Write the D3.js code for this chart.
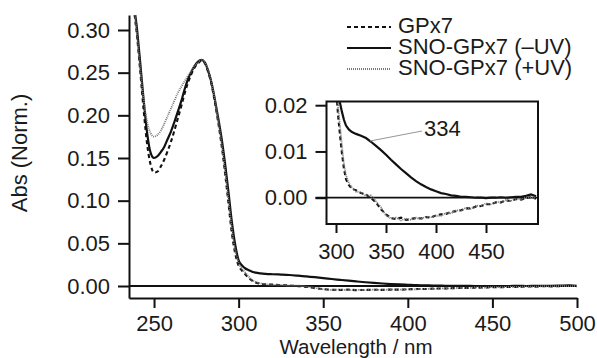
<!DOCTYPE html>
<html>
<head>
<meta charset="utf-8">
<script src="https://cdn.jsdelivr.net/npm/d3@7"></script>
<style>
  body { margin: 0; background: #fff; }
  svg text { font-family: "Liberation Sans", Arial, sans-serif; fill: #1a1a1a; }
</style>
</head>
<body>
<script>
// data (nm, normalised absorbance)
const wavelengths = [236,238,240,242,244,246,248,250,252,254,256,258,260,262,264,266,268,270,272,274,276,278,280,282,284,286,288,290,292,294,296,298,300,302,304,306,308,310,313,316,320,325,330,335,340,345,350,355,360,365,370,375,380,385,390,395,400,405,410,415,420,425,430,435,440,445,450,455,460,465,470,475,480,485,490,495,500];

const gpx7 = [0.40,0.330,0.292,0.248,0.203,0.165,0.142,0.133,0.134,0.140,0.148,0.158,0.169,0.182,0.196,0.210,0.225,0.238,0.248,0.256,0.261,0.264,0.261,0.251,0.236,0.215,0.191,0.164,0.132,0.097,0.062,0.038,0.024,0.018,0.0135,0.0095,0.0062,0.0040,0.0027,0.0019,0.0016,0.0010,0.0007,-0.0001,-0.0010,-0.0025,-0.0036,-0.0044,-0.0046,-0.0043,-0.0048,-0.0046,-0.0044,-0.0045,-0.0042,-0.0043,-0.0038,-0.0036,-0.0035,-0.0031,-0.0029,-0.0027,-0.0023,-0.0023,-0.0019,-0.0018,-0.0014,-0.0014,-0.0010,-0.0010,-0.0006,-0.0007,-0.0003,-0.0004,-0.0001,0.0001,-0.0002];

const snoMinusUV = [0.40,0.335,0.300,0.258,0.215,0.178,0.156,0.150,0.152,0.157,0.163,0.172,0.181,0.192,0.204,0.216,0.230,0.242,0.251,0.258,0.263,0.265,0.262,0.252,0.238,0.218,0.196,0.172,0.143,0.110,0.075,0.048,0.030,0.024,0.0205,0.0185,0.0168,0.0156,0.0147,0.0142,0.0138,0.0134,0.0129,0.0121,0.0112,0.0103,0.0093,0.0082,0.0072,0.0062,0.0053,0.0044,0.0036,0.0029,0.0023,0.0018,0.0014,0.0010,0.0008,0.0005,0.0004,0.0002,0.0002,0.0001,0.0000,0.0000,-0.0001,0.0000,0.0000,0.0001,0.0000,0.0001,0.0002,0.0002,0.0004,0.0007,0.0003];

const snoPlusUV = [0.40,0.335,0.293,0.252,0.216,0.192,0.179,0.175,0.177,0.182,0.190,0.199,0.208,0.217,0.226,0.233,0.240,0.246,0.252,0.258,0.262,0.265,0.262,0.253,0.238,0.218,0.193,0.166,0.135,0.101,0.067,0.042,0.027,0.020,0.0155,0.0110,0.0072,0.0048,0.0031,0.0022,0.0013,0.0012,0.0004,0.0005,-0.0008,-0.0021,-0.0038,-0.0045,-0.0043,-0.0049,-0.0045,-0.0048,-0.0043,-0.0046,-0.0041,-0.0042,-0.0039,-0.0039,-0.0033,-0.0034,-0.0027,-0.0028,-0.0022,-0.0024,-0.0017,-0.0018,-0.0012,-0.0014,-0.0009,-0.0010,-0.0005,-0.0007,-0.0002,-0.0004,0.0001,-0.0001,0.0001];

const seriesNames = ["GPx7", "SNO-GPx7 (\u2013UV)", "SNO-GPx7 (+UV)"];
const mainXTicks = [250, 300, 350, 400, 450, 500];
const mainYTicks = [0, 0.05, 0.10, 0.15, 0.20, 0.25, 0.30];
const insetXTicks = [300, 350, 400, 450];
const insetYTicks = [0, 0.01, 0.02];
const peakLabel = { nm: 334, text: "334" };

const width = 597, height = 358;
const fontSize = 22;

const series = [
  { name: seriesNames[0], values: gpx7, stroke: "#111", width: 2.1, dash: "4,3" },
  { name: seriesNames[1], values: snoMinusUV, stroke: "#111", width: 2.2, dash: null },
  { name: seriesNames[2], values: snoPlusUV, stroke: "#777", width: 1.8, dash: "1,1" }
];
series.forEach(s => {
  s.points = wavelengths.map((w, i) => ({ x: w, y: s.values[i] }));
});

const svg = d3.select("body").append("svg")
  .attr("width", width)
  .attr("height", height);

// ---------- main panel ----------
const x = d3.scaleLinear().domain([235.2, 500]).range([129, 577]);
const y = d3.scaleLinear().domain([-0.01406, 0.31758]).range([298, 15]);

svg.append("clipPath").attr("id", "clipMain")
  .append("rect").attr("x", 129).attr("y", 15).attr("width", 448).attr("height", 283);

const lineMain = d3.line().x(d => x(d.x)).y(d => y(d.y)).curve(d3.curveMonotoneX);

// zero line
svg.append("line")
  .attr("x1", x.range()[0]).attr("x2", x.range()[1])
  .attr("y1", y(0)).attr("y2", y(0))
  .attr("stroke", "#111").attr("stroke-width", 1.8);

svg.append("g").attr("clip-path", "url(#clipMain)")
  .selectAll("path")
  .data(series)
  .enter()
  .append("path")
  .attr("d", d => lineMain(d.points))
  .attr("fill", "none")
  .attr("stroke", d => d.stroke)
  .attr("stroke-width", d => d.width)
  .attr("stroke-dasharray", d => d.dash);

const bottomAxis = d3.axisBottom(x).tickValues(mainXTicks)
  .tickFormat(d3.format("d")).tickSize(10).tickSizeOuter(0).tickPadding(7);
const leftAxis = d3.axisLeft(y).tickValues(mainYTicks)
  .tickFormat(d3.format(".2f")).tickSize(11).tickSizeOuter(0).tickPadding(8);

function styleAxis(g) {
  g.select(".domain").attr("stroke", "#111").attr("stroke-width", 2);
  g.selectAll(".tick line").attr("stroke", "#111").attr("stroke-width", 2);
  g.selectAll("text").style("font-size", fontSize + "px").attr("fill", "#1a1a1a");
}

svg.append("g")
  .attr("transform", "translate(0," + y.range()[0] + ")")
  .call(bottomAxis)
  .call(styleAxis);

svg.append("g")
  .attr("transform", "translate(" + x.range()[0] + ",0)")
  .call(leftAxis)
  .call(styleAxis);

svg.append("text")
  .attr("x", 356).attr("y", 354)
  .attr("text-anchor", "middle")
  .style("font-size", "20.5px")
  .text("Wavelength / nm");

svg.append("text")
  .attr("transform", "translate(27,153) rotate(-90)")
  .attr("text-anchor", "middle")
  .style("font-size", fontSize + "px")
  .text("Abs (Norm.)");

// ---------- legend ----------
const legend = svg.append("g").attr("transform", "translate(347,0)");
const legendRows = [33, 54, 75];
series.forEach((s, i) => {
  legend.append("line")
    .attr("x1", 0).attr("x2", 44)
    .attr("y1", legendRows[i] - 6).attr("y2", legendRows[i] - 6)
    .attr("stroke", s.stroke)
    .attr("stroke-width", s.width)
    .attr("stroke-dasharray", s.dash);
  legend.append("text")
    .attr("x", 51).attr("y", legendRows[i])
    .style("font-size", fontSize + "px")
    .text(s.name);
});

// ---------- inset ----------
const xi = d3.scaleLinear().domain([290.5, 502]).range([326.5, 538]);
const yi = d3.scaleLinear().domain([-0.00568, 0.0208]).range([224, 101.5]);

svg.append("rect")
  .attr("x", xi.range()[0]).attr("y", yi.range()[1])
  .attr("width", xi.range()[1] - xi.range()[0])
  .attr("height", yi.range()[0] - yi.range()[1])
  .attr("fill", "#fff");

svg.append("clipPath").attr("id", "clipInset")
  .append("rect")
  .attr("x", xi.range()[0]).attr("y", yi.range()[1])
  .attr("width", xi.range()[1] - xi.range()[0])
  .attr("height", yi.range()[0] - yi.range()[1]);

const lineInset = d3.line().x(d => xi(d.x)).y(d => yi(d.y));

svg.append("line")
  .attr("x1", xi.range()[0] - 11).attr("x2", xi.range()[1])
  .attr("y1", yi(0)).attr("y2", yi(0))
  .attr("stroke", "#111").attr("stroke-width", 1.8);

svg.append("g").attr("clip-path", "url(#clipInset)")
  .selectAll("path")
  .data(series)
  .enter()
  .append("path")
  .attr("d", d => lineInset(d.points))
  .attr("fill", "none")
  .attr("stroke", d => d.stroke)
  .attr("stroke-width", d => d.width)
  .attr("stroke-dasharray", d => d.dash);

svg.append("rect")
  .attr("x", xi.range()[0]).attr("y", yi.range()[1])
  .attr("width", xi.range()[1] - xi.range()[0])
  .attr("height", yi.range()[0] - yi.range()[1])
  .attr("fill", "none")
  .attr("stroke", "#111").attr("stroke-width", 2);

const insetBottom = d3.axisBottom(xi).tickValues(insetXTicks)
  .tickFormat(d3.format("d")).tickSize(9).tickSizeOuter(0).tickPadding(10);
const insetLeft = d3.axisLeft(yi).tickValues(insetYTicks)
  .tickFormat(d3.format(".2f")).tickSize(11).tickSizeOuter(0).tickPadding(8);

svg.append("g")
  .attr("transform", "translate(0," + yi.range()[0] + ")")
  .call(insetBottom)
  .call(styleAxis)
  .call(g => g.select(".domain").remove());

svg.append("g")
  .attr("transform", "translate(" + xi.range()[0] + ",0)")
  .call(insetLeft)
  .call(styleAxis)
  .call(g => g.select(".domain").remove());

// annotation of the 334 nm shoulder
const peakVal = d3.interpolateNumber(
  snoMinusUV[wavelengths.indexOf(330)],
  snoMinusUV[wavelengths.indexOf(335)])((peakLabel.nm - 330) / 5);
svg.append("line")
  .attr("x1", xi(peakLabel.nm)).attr("y1", yi(peakVal))
  .attr("x2", xi(peakLabel.nm) + 52).attr("y2", yi(peakVal) - 10)
  .attr("stroke", "#999").attr("stroke-width", 1.2);
svg.append("text")
  .attr("x", xi(peakLabel.nm) + 54).attr("y", yi(peakVal) - 5)
  .style("font-size", fontSize + "px")
  .text(peakLabel.text);
</script>
</body>
</html>
